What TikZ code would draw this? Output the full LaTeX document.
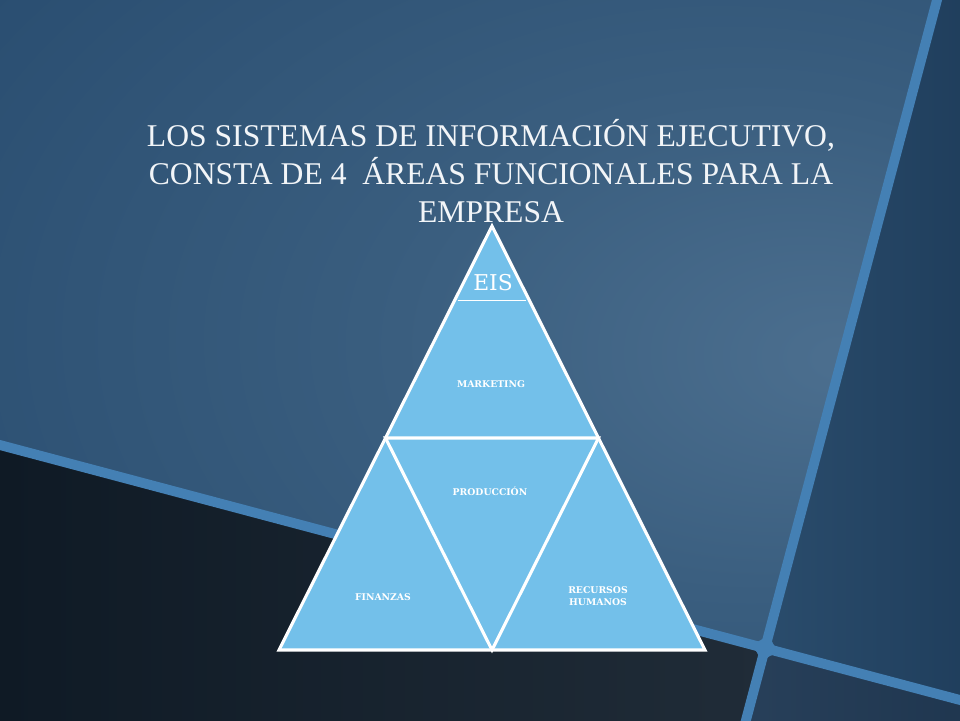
\documentclass[tikz,border=0pt]{standalone}
\usepackage{fontspec}
\setmainfont{Liberation Serif}
\newfontfamily\slabfont{DejaVu Serif}
\usetikzlibrary{calc}

\definecolor{bandblue}{HTML}{4480B4}
\definecolor{skyfill}{HTML}{73C0EA}
\definecolor{titlewhite}{HTML}{F2F5F8}
\definecolor{glowlight}{HTML}{4C6F8F}
\definecolor{glowmid}{HTML}{3A5E7F}
\definecolor{glowdark}{HTML}{22466A}

\pgfdeclareradialshading{slideglow}{\pgfpoint{20bp}{-4bp}}{%
    color(0bp)=(glowlight); color(18bp)=(glowmid); color(52bp)=(glowdark); color(75bp)=(glowdark)}

\tikzset{
    band/.style = {bandblue, line width=7pt},
    cell/.style = {white, line width=2.2pt, line join=miter},
    area/.style = {font=\slabfont\bfseries\fontsize{6.6}{8}\selectfont, text=white, inner sep=0pt, align=center}
}

\begin{document}
\begin{tikzpicture}[x=0.25mm, y=-0.25mm]

        \useasboundingbox (0,0) rectangle (960,720);
        \clip (0,0) rectangle (960,720);
        \fill[bandblue] (0,0) rectangle (960,720);

        % the two light bands of the slide
        \coordinate (La) at (-40,434.4);
        \coordinate (Rr) at (1000,710.6);
        \coordinate (Bt) at (947.6,-40);
        \coordinate (Bb) at (735.4,760);
        \coordinate (X) at (intersection of La--Rr and Bt--Bb);

        \shade[shading=slideglow, rounded corners=16pt]
            (-40,-40) -- (Bt) -- (X) -- (La) -- cycle;
        \shade[left color={rgb,255:red,42;green,76;blue,108}, right color={rgb,255:red,30;green,60;blue,90}, rounded corners=16pt]
            (Bt) -- (1000,-40) -- (Rr) -- (X) -- cycle;
        \shade[left color={rgb,255:red,14;green,25;blue,36}, right color={rgb,255:red,32;green,44;blue,56}, rounded corners=16pt]
            (La) -- (X) -- (Bb) -- (-40,760) -- cycle;
        \shade[left color={rgb,255:red,40;green,64;blue,90}, right color={rgb,255:red,30;green,53;blue,78}, rounded corners=16pt]
            (X) -- (Rr) -- (1000,760) -- (Bb) -- cycle;

        \draw[band] (La) -- (Rr);
        \draw[band] (Bt) -- (Bb);

        \node[text=titlewhite, align=center, font=\fontsize{22.5}{27}\selectfont] (title) at (491,171)
            {LOS SISTEMAS DE INFORMACIÓN EJECUTIVO,\\CONSTA DE 4~ ÁREAS FUNCIONALES PARA LA\\EMPRESA};

        % pyramid
        \coordinate (A) at (492,226);
        \coordinate (B) at (279,650);
        \coordinate (C) at (705,650);
        \coordinate (P) at ($(A)!.5!(B)$);
        \coordinate (Q) at ($(A)!.5!(C)$);
        \coordinate (M) at ($(B)!.5!(C)$);
        \coordinate (E1) at ($(A)!.175!(B)$);
        \coordinate (E2) at ($(A)!.175!(C)$);

        \fill[skyfill] (A) -- (B) -- (C) -- cycle;
        \draw[white, line width=0.6pt] ($(E1)!.04!(E2)$) -- ($(E2)!.04!(E1)$);
        \draw[cell] (P) -- (M) -- (Q) -- cycle;
        \draw[cell] (A) -- (B) -- (C) -- cycle;

        \node[text=white, font=\slabfont\fontsize{15.5}{17}\selectfont, inner sep=0pt] (eis) at (493,283) {EIS};

        \node[area] (mkt) at (491,384) {MARKETING};
        \node[area] (prod) at (490,491) {PRODUCCIÓN};
        \node[area] (fin) at (383,597) {FINANZAS};
        \node[area] (rrhh) at (598,596) {RECURSOS\\HUMANOS};

\end{tikzpicture}
\end{document}
